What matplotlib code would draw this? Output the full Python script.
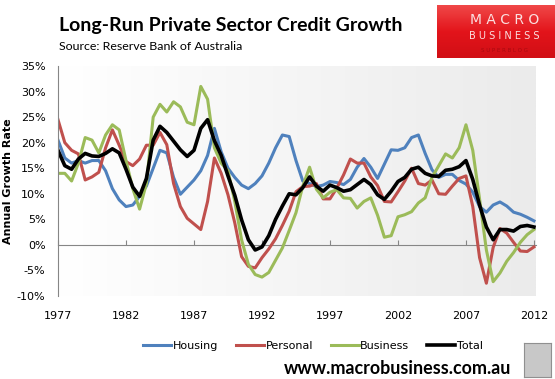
import numpy as np
import matplotlib
matplotlib.use("Agg")
import matplotlib.pyplot as plt
from matplotlib.colors import LinearSegmentedColormap
from matplotlib.ticker import FuncFormatter

# half-yearly readings of annual growth (%)
years = np.arange(1977.0, 2012.01, 0.5)

housing = [20.5, 17, 16, 16.5, 16, 16.5, 16.5, 14.5, 11, 8.8,
           7.5, 7.8, 9.5, 11.5, 15, 18.5, 18, 13.2, 9.9, 11.3,
           12.7, 14.5, 17.5, 22.8, 18.2, 15, 13.2, 11.7, 11, 12,
           13.5, 16, 19, 21.5, 21.2, 16.5, 12.5, 12, 11.4, 11.7,
           12.4, 12.2, 11.8, 12.8, 15.2, 16.9, 15.2, 13, 15.8, 18.6,
           18.5, 19, 21, 21.5, 17.9, 14.7, 13.2, 13.8, 13.8, 12.6,
           11.9, 10.3, 7.5, 6.4, 7.8, 8.4, 7.6, 6.4, 6, 5.4, 4.7]

personal = [24.5, 20, 18.5, 17.8, 12.7, 13.3, 14.2, 19, 22.5, 19.5,
            16.3, 15.5, 16.8, 19.5, 19.5, 22, 19.6, 12, 7.5, 5.2,
            4.1, 3.0, 8.5, 17.0, 14, 9.8, 4.3, -2.3, -4.2, -4.5,
            -2.5, -0.8, 1.2, 3.8, 6.6, 10.4, 11.4, 11.5, 12, 9,
            9, 11.1, 13.7, 16.8, 16, 16, 13.3, 11.6, 8.5, 8.4,
            10.4, 12.5, 15, 12, 11.7, 12.7, 10, 9.9, 11.5, 13,
            13.5, 7.5, -2.5, -7.5, -0.5, 3.2, 2.3, 0.5, -1.2, -1.3, -0.4]

business = [14, 14, 12.5, 16, 21, 20.5, 18, 21.5, 23.5, 22.5,
            16.5, 11, 7, 12, 25, 27.5, 26, 28, 27, 24,
            23.5, 31, 28.5, 19, 16, 14.5, 8.5, 1, -3.8, -5.8,
            -6.3, -5.4, -3, -0.6, 2.8, 6.3, 11.5, 15.2, 10.9, 9.2,
            10.3, 10.8, 9.2, 9.1, 7.2, 8.5, 9.2, 5.8, 1.5, 1.8,
            5.5, 5.9, 6.5, 8.2, 9.2, 13.2, 15.5, 17.8, 17, 19,
            23.5, 18.5, 9, -1, -7.2, -5.5, -3.2, -1.5, 0.5, 2, 3]

total = [18.5, 15.5, 14.8, 16.8, 17.9, 17.4, 17.3, 17.9, 18.8, 18,
         14.8, 11.3, 9.5, 13, 20.5, 23.2, 22, 20.3, 18.6, 17.3,
         18.5, 22.8, 24.5, 20.4, 17.5, 13.5, 9.7, 4.9, 1, -1,
         -0.4, 1.8, 5, 7.6, 10, 9.8, 11.2, 13.3, 11.5, 10.5,
         11.7, 11.2, 10.5, 10.8, 11.8, 12.8, 11.8, 9.8, 8.9, 10.5,
         12.4, 13.2, 14.8, 15.2, 14, 13.5, 13.4, 14.6, 14.8, 15.3,
         16.5, 12.8, 7.8, 3.5, 1, 3, 3, 2.7, 3.6, 3.8, 3.5]

series = [("Housing", housing, "#4F81BD", 2.2),
          ("Personal", personal, "#C0504D", 2.2),
          ("Business", business, "#9BBB59", 2.2),
          ("Total", total, "black", 2.6)]

year_ticks = [1977, 1982, 1987, 1992, 1997, 2002, 2007, 2012]

fig = plt.figure(figsize=(5.55, 3.79), dpi=100)
pos = [58 / 555, 1 - 296 / 379, 478 / 555, 230 / 379]

# plot area background: white -> light grey gradient
bg = fig.add_axes(pos, zorder=0)
grad = np.linspace(0, 1, 256).reshape(1, -1)
bg_cmap = LinearSegmentedColormap.from_list("bg", ["#ffffff", "#ebebeb"])
bg.imshow(grad, aspect="auto", cmap=bg_cmap, extent=[0, 1, 0, 1])
bg.axis("off")

ax = fig.add_axes(pos, zorder=1)
ax.patch.set_alpha(0)
for name, vals, color, lw in series:
    ax.plot(years, vals, color=color, lw=lw, label=name, solid_joinstyle="round")

ax.set_xlim(1977, 2012.15)
ax.set_ylim(-10, 35)
ax.set_yticks(range(-10, 36, 5))
ax.yaxis.set_major_formatter(FuncFormatter(lambda v, p: f"{v:.0f}%"))
ax.set_xticks(year_ticks)
ax.set_xticklabels([str(y) for y in year_ticks])
ax.tick_params(axis="x", length=0, pad=11, labelsize=8)
ax.tick_params(axis="y", length=0, pad=9, labelsize=8)
for s in ["top", "right", "bottom"]:
    ax.spines[s].set_visible(False)
ax.spines["left"].set_color("#868686")
ax.set_ylabel("Annual Growth Rate", fontsize=8, fontweight="bold")
ax.yaxis.set_label_coords(-45 / 478, 0.5)

# horizontal axis line crossing at zero with inward tick marks
zero_ax = ax.secondary_xaxis(10 / 45)
zero_ax.set_xticks(year_ticks)
zero_ax.set_xticklabels([])
zero_ax.tick_params(direction="in", length=3.5, color="#868686")
zero_ax.spines["bottom"].set_color("#868686")

fig.legend(loc="center", bbox_to_anchor=(313 / 555, 1 - 346 / 379), ncol=4,
           frameon=False, fontsize=8, handlelength=2.5, handletextpad=0.15,
           columnspacing=1.6)

fig.text(59 / 555, 1 - 26 / 379, "Long-Run Private Sector Credit Growth",
         fontsize=14, fontweight="bold", family="Lato", va="center")
fig.text(59 / 555, 1 - 47 / 379, "Source: Reserve Bank of Australia",
         fontsize=8.9, family="Lato", va="center")
fig.text(511 / 555, 1 - 369 / 379, "www.macrobusiness.com.au",
         fontsize=12.9, fontweight="bold", family="Lato", va="center", ha="right")

# logo block
logo = fig.add_axes([437 / 555, 1 - 58 / 379, 118 / 555, 53 / 379])
red = LinearSegmentedColormap.from_list("red", ["#f04848", "#e3141b", "#d10f15"])
logo.imshow(np.linspace(0, 1, 64).reshape(-1, 1), aspect="auto", cmap=red,
            extent=[0, 1, 0, 1])
logo.set_xlim(0, 1)
logo.set_ylim(0, 1)
logo.axis("off")
logo.text(0.57, 0.72, "M A C R O", color="#fbe0e0", fontsize=10, ha="center", va="center")
logo.text(0.57, 0.41, "B U S I N E S S", color="#fbe0e0", fontsize=7, ha="center", va="center")
logo.text(0.57, 0.15, "S U P E R B L O G", color="#a80a10", fontsize=4, ha="center", va="center")

# small picture box bottom right
pic = fig.add_axes([524 / 555, 0.005, 27 / 555, 34 / 379])
pic.set_facecolor("#c8c8c8")
pic.set_xticks([])
pic.set_yticks([])
for s in pic.spines.values():
    s.set_color("#909090")

fig.savefig("out.png", dpi=100)
